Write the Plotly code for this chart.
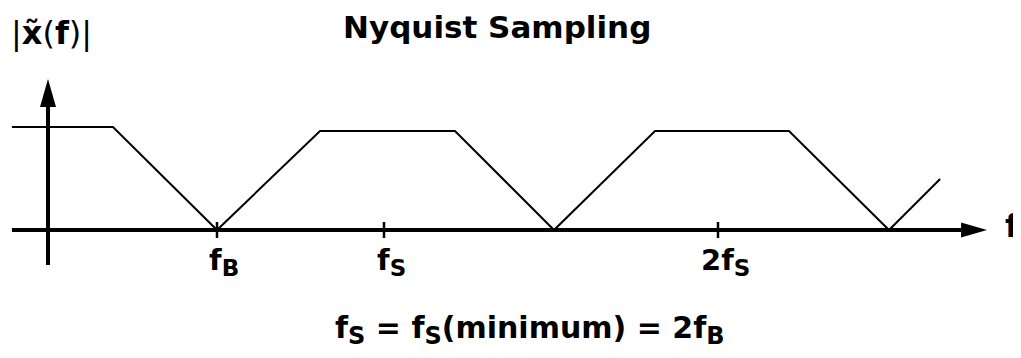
import plotly.graph_objects as go

# page is shown with the browser's default 8px body margin
OFF = 8
W, H = 1021 - OFF, 358 - OFF

# ---- data (frequency in units of f_B, magnitude normalised) ----
spectrum_f = [-0.228, 0.377, 1.0, 1.617, 2.425, 3.018, 3.623, 4.425, 5.024, 5.33]
spectrum_mag = [1.03, 1.03, 0.0, 0.99, 0.99, 0.0, 0.99, 0.99, 0.0, 0.51]
tick_f = [1.0, 2.0, 4.0]
tick_main = ["f", "f", "2f"]
tick_sub = ["B", "S", "S"]
title_text = "Nyquist Sampling"
y_label = "|<b>x\u0303</b>(<b>f</b>)|"
x_label = "f"

# axis extents (data units)
f_axis = [-0.228, 5.611]
mag_axis = [-0.35, 1.51]
x_range = [-42 / 167, (W - 42) / 167]
y_range = [-(H - 222) / 100, 222 / 100]

FONT = "DejaVu Sans"
fx = (x_range[1] - x_range[0]) / W   # data units per pixel (x)
fy = (y_range[1] - y_range[0]) / H   # data units per pixel (y)


def paper(px, py):
    """page pixel -> paper coords"""
    return (px - OFF) / W, 1 - (py - OFF) / H


def sub(main, s, size):
    return f"<b>{main}<sub><span style='font-size:{size}px'>{s}</span></sub></b>"


fig = go.Figure()

# horizontal axis
head_len_x, head_half_x = 26 * fx, 7.5 * fy
fig.add_trace(go.Scatter(x=[f_axis[0], f_axis[1] - head_len_x], y=[0, 0], mode="lines",
                         line=dict(color="black", width=4), hoverinfo="skip"))
fig.add_trace(go.Scatter(x=[f_axis[1], f_axis[1] - head_len_x, f_axis[1] - head_len_x, f_axis[1]],
                         y=[0, head_half_x, -head_half_x, 0], mode="lines", fill="toself",
                         fillcolor="black", line=dict(color="black", width=0), hoverinfo="skip"))
# vertical axis
head_len_y, head_half_y = 28 * fy, 8 * fx
fig.add_trace(go.Scatter(x=[-0.012, -0.012], y=[mag_axis[0], mag_axis[1] - head_len_y], mode="lines",
                         line=dict(color="black", width=4), hoverinfo="skip"))
fig.add_trace(go.Scatter(x=[-0.012, -0.012 + head_half_y, -0.012 - head_half_y, -0.012],
                         y=[mag_axis[1], mag_axis[1] - head_len_y, mag_axis[1] - head_len_y, mag_axis[1]],
                         mode="lines", fill="toself", fillcolor="black",
                         line=dict(color="black", width=0), hoverinfo="skip"))
# ticks
tx, ty = [], []
for f in tick_f:
    tx += [f, f, None]
    ty += [8 * fy, -8 * fy, None]
fig.add_trace(go.Scatter(x=tx, y=ty, mode="lines", line=dict(color="black", width=2.5),
                         hoverinfo="skip"))
# spectrum
fig.add_trace(go.Scatter(x=spectrum_f, y=spectrum_mag, mode="lines",
                         line=dict(color="black", width=2), hoverinfo="skip"))

anns = []
for f, m, s in zip(tick_f, tick_main, tick_sub):
    anns.append(dict(x=f, y=0, xref="x", yref="y", text=sub(m, s, 23), showarrow=False,
                     xanchor="center", yanchor="top", xshift=7, yshift=-11,
                     font=dict(family=FONT, size=29, color="black")))
x, y = paper(497, 27)
anns.append(dict(x=x, y=y, xref="paper", yref="paper", text=f"<b>{title_text}</b>",
                 showarrow=False, xanchor="center", yanchor="middle",
                 font=dict(family=FONT, size=31, color="black")))
x, y = paper(51, 33)
anns.append(dict(x=x, y=y, xref="paper", yref="paper", text=y_label,
                 showarrow=False, xanchor="center", yanchor="middle",
                 font=dict(family=FONT, size=32, color="black")))
x, y = paper(1012, 226)
anns.append(dict(x=x, y=y, xref="paper", yref="paper", text=f"<b>{x_label}</b>",
                 showarrow=False, xanchor="center", yanchor="middle",
                 font=dict(family=FONT, size=32, color="black")))
formula = (sub("f", "S", 24) + "<b> = </b>" + sub("f", "S", 24) + "<b>(minimum) = </b>"
           + sub("2f", "B", 24))
x, y = paper(530, 330)
anns.append(dict(x=x, y=y, xref="paper", yref="paper", text=formula,
                 showarrow=False, xanchor="center", yanchor="middle",
                 font=dict(family=FONT, size=30, color="black")))

fig.update_layout(
    width=W, height=H, margin=dict(l=0, r=0, t=0, b=0),
    paper_bgcolor="white", plot_bgcolor="white", showlegend=False,
    xaxis=dict(range=x_range, visible=False, fixedrange=True),
    yaxis=dict(range=y_range, visible=False, fixedrange=True),
    annotations=anns,
)
fig.write_html("out.html")
